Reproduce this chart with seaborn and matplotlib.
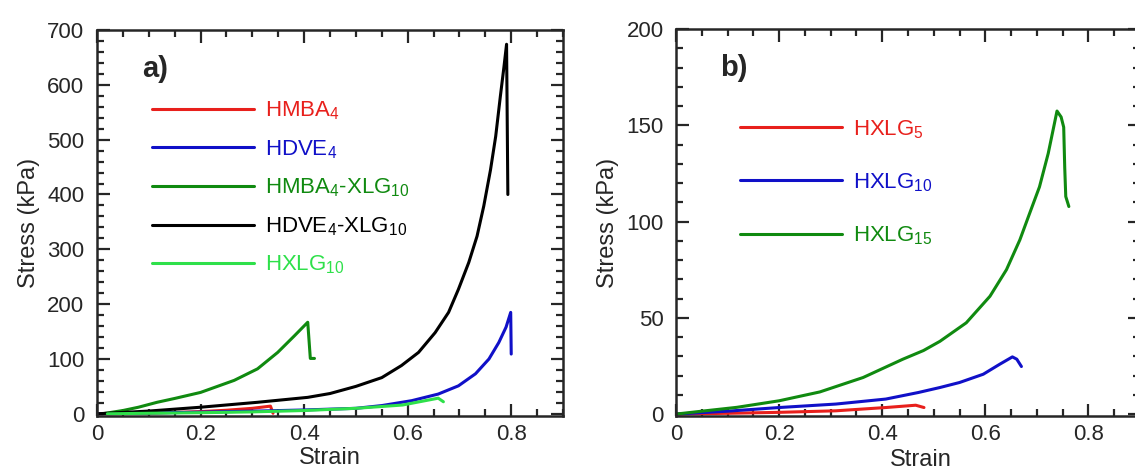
import matplotlib
matplotlib.use("Agg")
import matplotlib.pyplot as plt
from matplotlib.ticker import MultipleLocator
import seaborn as sns
import pandas as pd

# ---- panel a data (strain, stress kPa) ----
hmba4_x = [0.0, 0.05, 0.1, 0.15, 0.2, 0.25, 0.3, 0.335, 0.34]
hmba4_y = [0, 0.5, 1.2, 2.5, 4, 6.5, 10, 14, 1]

hdve4_x = [0.0, 0.1, 0.2, 0.31, 0.4, 0.5, 0.55, 0.608, 0.659, 0.698, 0.731, 0.757,
           0.776, 0.79, 0.799, 0.8]
hdve4_y = [0, 1.5, 3, 5, 7, 10, 15, 24, 36, 51, 73, 100, 130, 158, 185, 109]

hmba4_xlg10_x = [0.01, 0.05, 0.08, 0.116, 0.15, 0.2, 0.265, 0.31, 0.349, 0.381, 0.407,
                 0.412, 0.42]
hmba4_xlg10_y = [0, 6, 12, 21, 28, 39, 61, 82, 112, 142, 167, 101, 101]

hdve4_xlg10_x = [0.0, 0.1, 0.2, 0.31, 0.407, 0.45, 0.5, 0.55, 0.588, 0.621, 0.653,
                 0.679, 0.698, 0.718, 0.734, 0.747, 0.76, 0.77, 0.779, 0.786, 0.791,
                 0.7935]
hdve4_xlg10_y = [0, 5, 12, 21, 30, 37, 50, 66, 88, 112, 148, 185, 227, 276, 324, 379,
                 445, 506, 579, 633, 674, 400]

hxlg10a_x = [0.02, 0.1, 0.2, 0.3, 0.4, 0.5, 0.59, 0.659, 0.669]
hxlg10a_y = [0, 1, 2, 3.5, 6, 10, 16, 28.5, 22]

labels_a = ["HMBA$_4$", "HDVE$_4$", "HMBA$_4$-XLG$_{10}$", "HDVE$_4$-XLG$_{10}$", "HXLG$_{10}$"]
colors_a = ["#e8201c", "#1010c8", "#108a10", "#000000", "#2ee04a"]

# ---- panel b data ----
hxlg5_x = [0.0, 0.1, 0.2, 0.31, 0.407, 0.465, 0.481]
hxlg5_y = [0, 0.4, 0.9, 1.7, 3.4, 4.6, 3.4]

hxlg10_x = [0.0, 0.1, 0.2, 0.31, 0.407, 0.47, 0.512, 0.55, 0.596, 0.628, 0.6525,
            0.661, 0.67]
hxlg10_y = [0, 1.5, 3.4, 5.2, 7.8, 11.2, 13.8, 16.4, 20.7, 25.9, 29.7, 28.5, 24.7]

hxlg15_x = [0.0, 0.05, 0.118, 0.2, 0.279, 0.363, 0.44, 0.48, 0.512, 0.563, 0.609, 0.641,
            0.667, 0.686, 0.705, 0.722, 0.734, 0.739, 0.747, 0.752, 0.754, 0.756, 0.762]
hxlg15_y = [0, 1.5, 3.5, 6.9, 11.5, 19, 28.5, 33, 37.8, 47.4, 61.2, 75, 90.5, 104.3,
            118, 135.4, 150.9, 157.4, 154.3, 149, 128, 113, 107.8]

labels_b = ["HXLG$_5$", "HXLG$_{10}$", "HXLG$_{15}$"]
colors_b = ["#e8201c", "#1010c8", "#108a10"]


def make_df(xs, ys, labels):
    frames = []
    for x, y, lab in zip(xs, ys, labels):
        frames.append(pd.DataFrame({"Strain": x, "Stress": y, "Sample": lab}))
    return pd.concat(frames, ignore_index=True)


sns.set_style("ticks")
plt.rcParams["font.family"] = ["Liberation Sans", "DejaVu Sans"]
plt.rcParams["mathtext.default"] = "regular"

df_a = make_df([hmba4_x, hdve4_x, hmba4_xlg10_x, hdve4_xlg10_x, hxlg10a_x],
               [hmba4_y, hdve4_y, hmba4_xlg10_y, hdve4_xlg10_y, hxlg10a_y], labels_a)
df_b = make_df([hxlg5_x, hxlg10_x, hxlg15_x], [hxlg5_y, hxlg10_y, hxlg15_y], labels_b)

fig = plt.figure(figsize=(11.35, 4.72), dpi=100)
ax_a = fig.add_axes([97 / 1135, 56 / 472, 466 / 1135, 386 / 472])
ax_b = fig.add_axes([676 / 1135, 56 / 472, 464 / 1135, 387 / 472])

panels = [
    (ax_a, df_a, labels_a, colors_a, (-4, 700), 100, 20, "a)", 0.118, 0.82, 0.72),
    (ax_b, df_b, labels_b, colors_b, (-1, 200), 50, 10, "b)", 0.137, 0.77, 1.38),
]

for ax, df, labels, colors, ylim, ymaj, ymin, tag, lx, ly, lsp in panels:
    sns.lineplot(data=df, x="Strain", y="Stress", hue="Sample", hue_order=labels,
                 palette=colors, sort=False, estimator=None, linewidth=2.2,
                 legend=False, ax=ax)
    ax.set_xlim(0, 0.9)
    ax.set_ylim(*ylim)
    ax.xaxis.set_major_locator(MultipleLocator(0.2))
    ax.xaxis.set_minor_locator(MultipleLocator(0.05))
    ax.yaxis.set_major_locator(MultipleLocator(ymaj))
    ax.yaxis.set_minor_locator(MultipleLocator(ymin))
    ax.xaxis.set_major_formatter(plt.FuncFormatter(lambda v, p: "0" if v == 0 else f"{v:g}"))
    ax.tick_params(which="both", direction="in", top=True, right=True, width=1.6,
                   labelsize=16)
    ax.tick_params(axis="x", pad=6)
    ax.tick_params(axis="y", pad=9)
    ax.tick_params(which="major", length=9)
    ax.tick_params(which="minor", length=5)
    for s in ax.spines.values():
        s.set_linewidth(1.8)
    ax.set_xlabel("Strain", fontsize=17, labelpad=1)
    ax.set_ylabel("Stress (kPa)", fontsize=17, labelpad=5)
    ax.text(0.096, 0.90, tag, transform=ax.transAxes, fontsize=21, fontweight="bold",
            va="center", ha="left")
    ax.legend(ax.lines, labels, loc="upper left", bbox_to_anchor=(lx, ly),
              frameon=False, fontsize=16, handlelength=4.6, handletextpad=0.5,
              labelspacing=lsp, borderpad=0, borderaxespad=0, labelcolor="linecolor")

ax_b.xaxis.set_label_coords(0.528, -0.085)

plt.savefig("out.png", dpi=100)
plt.close()
